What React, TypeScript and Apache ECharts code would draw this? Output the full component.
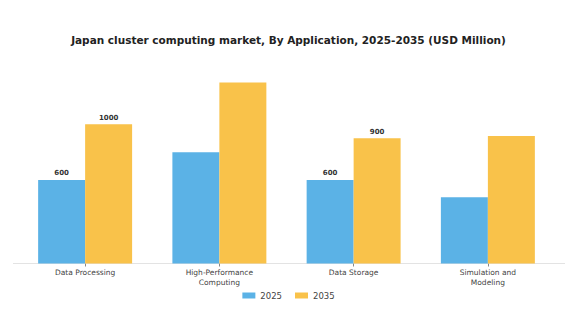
import React, { useEffect, useRef } from "react";
import * as echarts from "echarts";

const categories = ["Data Processing", "High-Performance\nComputing", "Data Storage", "Simulation and\nModeling"];
const seriesNames = ["2025", "2035"];
const values2025 = [600, 800, 600, 475];
const values2035 = [1000, 1300, 900, 915];
const labeled2025 = [true, false, true, false];
const labeled2035 = [true, false, true, false];

const FONT = "DejaVu Sans";

export default function App() {
  const ref = useRef<HTMLDivElement>(null);
  useEffect(() => {
    if (!ref.current) return;
    const chart = echarts.init(ref.current, null, { renderer: "svg" });
    const mk = (vals: number[], flags: boolean[]) =>
      vals.map((v, i) => ({
        value: v,
        label: { show: flags[i] },
      }));
    const label = {
      position: "top" as const,
      distance: 3,
      fontFamily: FONT,
      fontSize: 7,
      fontWeight: "bold" as const,
      color: "#333",
    };
    chart.setOption({
      animation: false,
      backgroundColor: "#ffffff",
      title: {
        text: "Japan cluster computing market, By Application, 2025-2035 (USD Million)",
        left: "center",
        top: 29,
        textStyle: { fontFamily: FONT, fontSize: 10.5, fontWeight: "bold", color: "#222" },
      },
      legend: {
        data: seriesNames,
        left: "center",
        top: 286,
        itemWidth: 13,
        itemHeight: 6,
        itemGap: 13,
        icon: "rect",
        textStyle: { fontFamily: FONT, fontSize: 8.5, color: "#444" },
      },
      grid: { left: 18, right: 22, top: 68.6, bottom: 59.5, containLabel: false },
      xAxis: {
        type: "category",
        data: categories,
        axisLine: { show: false },
        axisTick: { show: true, alignWithLabel: true, length: 3, lineStyle: { color: "#888" } },
        axisLabel: { fontFamily: FONT, fontSize: 7.5, color: "#444", margin: 4, lineHeight: 10, interval: 0 },
      },
      yAxis: {
        type: "value",
        min: 0,
        max: 1400,
        show: false,
        splitLine: { show: false },
      },
      graphic: [
        {
          type: "line",
          shape: { x1: 13, y1: 263.5, x2: 565, y2: 263.5 },
          style: { stroke: "#e3e3e3", lineWidth: 1 },
          z: 0,
        },
      ],
      series: [
        {
          name: seriesNames[0],
          type: "bar",
          data: mk(values2025, labeled2025),
          barGap: "0%",
          barCategoryGap: "30%",
          itemStyle: { color: "#5BB2E6" },
          label,
          z: 2,
        },
        {
          name: seriesNames[1],
          type: "bar",
          data: mk(values2035, labeled2035),
          barGap: "0%",
          barCategoryGap: "30%",
          itemStyle: { color: "#F9C24A" },
          label,
          z: 2,
        },
      ],
    });
    return () => chart.dispose();
  }, []);
  return <div ref={ref} style={{ width: 577, height: 323, position: "absolute", left: 0, top: 0 }} />;
}
